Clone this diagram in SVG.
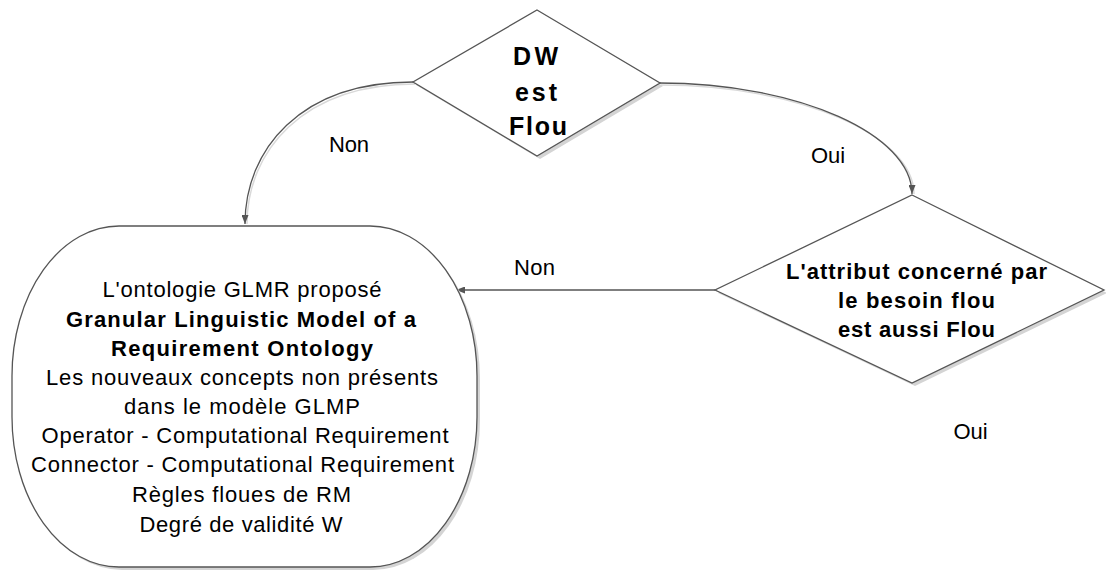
<svg xmlns="http://www.w3.org/2000/svg" width="1106" height="570" viewBox="0 0 1106 570">
<style>
.shape{fill:#ffffff;stroke:#555555;stroke-width:1.3}
.shadow{fill:#d4d4d4;stroke:none}
.line{fill:none;stroke:#555555;stroke-width:1.3}
.lshadow{fill:none;stroke:#d9d9d9;stroke-width:1.5}
text{font-family:"Liberation Sans",Arial,sans-serif;fill:#000000;text-anchor:middle}
.t{font-size:22px}
.b{font-size:22px;font-weight:bold}
.big{font-size:25px;font-weight:bold}
</style>
<defs>
<marker id="arr" markerUnits="userSpaceOnUse" markerWidth="9" markerHeight="7" refX="9" refY="3.5" orient="auto">
<path d="M0,0 L9,3.5 L0,7 z" fill="#555555"/>
</marker>
</defs>
<rect width="1106" height="570" fill="#ffffff"/>
<g id="connectors">
<path class="lshadow" d="M415 84 C302 84,247 152,247 224"/>
<path class="lshadow" d="M661 85 C802 85,914 137,914 194"/>
<path class="line" d="M413 82 C300 82,245 150,245 224" marker-end="url(#arr)"/>
<path class="line" d="M659 83 C800 83,912 135,912 194" marker-end="url(#arr)"/>
<path class="line" d="M715 290 L456 290" marker-end="url(#arr)"/>
<text class="t" x="349" y="152" textLength="40">Non</text>
<text class="t" x="828" y="163">Oui</text>
<text class="t" x="534.5" y="275" textLength="41">Non</text>
<text class="t" x="970.5" y="439">Oui</text>
</g>
<g id="node-dw">
<polygon class="shadow" points="540,13 663,86 540,159 416,85"/>
<polygon class="shape" points="537,10 660,83 537,156 413,82"/>
<text class="big" x="535.5" y="65" textLength="45">DW</text>
<text class="big" x="536" y="101" textLength="42">est</text>
<text class="big" x="538" y="135" textLength="58">Flou</text>
</g>
<g id="node-attribut">
<polygon class="shadow" points="915,198 1107,293 915,386 718,293"/>
<polygon class="shape" points="912,195 1104,290 912,383 715,290"/>
<text class="b" x="916.5" y="279" textLength="261">L'attribut concerné par</text>
<text class="b" x="916.5" y="308" textLength="157">le besoin flou</text>
<text class="b" x="916.5" y="337" textLength="157">est aussi Flou</text>
</g>
<g id="node-glmr">
<rect class="shadow" x="15" y="229" width="465" height="341" rx="107" ry="150"/>
<rect class="shape" x="12" y="226" width="465" height="341" rx="107" ry="150"/>
<text class="t" x="242" y="297" textLength="279">L'ontologie GLMR proposé</text>
<text class="b" x="241" y="327" textLength="350">Granular Linguistic Model of a</text>
<text class="b" x="242" y="356" textLength="262">Requirement Ontology</text>
<text class="t" x="242" y="385" textLength="392">Les nouveaux concepts non présents</text>
<text class="t" x="242" y="414" textLength="236">dans le modèle GLMP</text>
<text class="t" x="245" y="443" textLength="407">Operator - Computational Requirement</text>
<text class="t" x="242.5" y="472" textLength="423">Connector - Computational Requirement</text>
<text class="t" x="241.5" y="502" textLength="219">Règles floues de RM</text>
<text class="t" x="241" y="532" textLength="203">Degré de validité W</text>
</g>
</svg>
